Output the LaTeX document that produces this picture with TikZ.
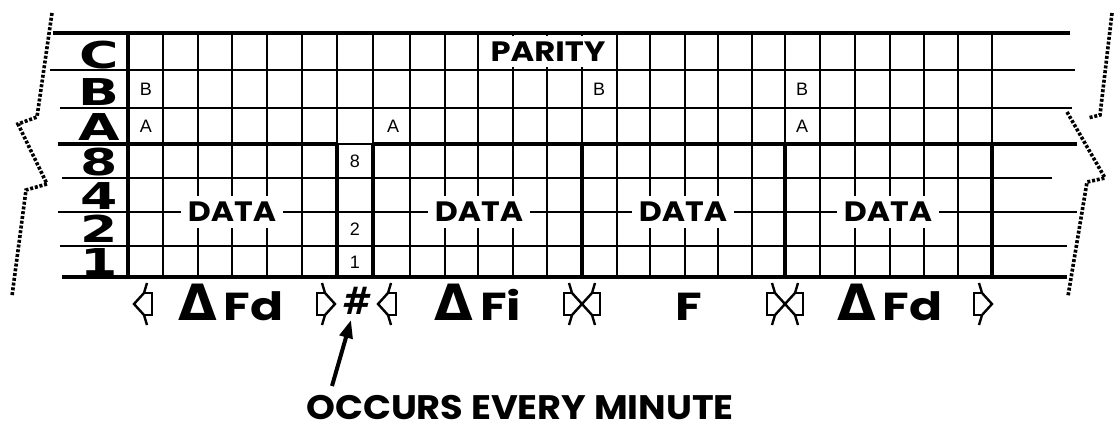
\documentclass[tikz,border=0pt]{standalone}
\usepackage{fontspec}
\setmainfont{Liberation Sans}
\newfontfamily\popf{Poppins}
\newfontfamily\djv{DejaVu Sans}
\usetikzlibrary{arrows.meta}
\newcommand\wideX[2]{\scalebox{#1}[1]{#2}}
\begin{document}
\begin{tikzpicture}[x=1pt,y=-1pt,
  gline/.style={line width=1.5pt},
  bline/.style={line width=3.2pt},
  tear/.style={line width=3.6pt, dash pattern=on 3pt off 1.8pt},
  rowlbl/.style={font=\djv\bfseries\fontsize{37}{37}\selectfont, inner sep=0pt},
  smallch/.style={font=\fontsize{18}{18}\selectfont, inner sep=0pt},
  datalbl/.style={font=\popf\bfseries\fontsize{28}{28}\selectfont, fill=white, inner xsep=7pt, inner ysep=6pt},
  sym/.style={line width=2.4pt, line join=miter},
  botlbl/.style={anchor=base, inner sep=0pt},
  arr/.style={line width=4pt, -{Triangle[length=18pt,width=13pt]}},
  rptr/.pic={
    \draw[sym] (-13,-21) -- (-10,-11) -- (0,0) -- (-10,11) -- (-13,21);
    \draw[sym] (-10,-11) -- (-18,-11) -- (-18,11) -- (-10,11);
  },
  lptr/.pic={
    \draw[sym] (13,-21) -- (10,-11) -- (0,0) -- (10,11) -- (13,21);
    \draw[sym] (10,-11) -- (18,-11) -- (18,11) -- (10,11);
  }
]
\useasboundingbox (0,0) rectangle (1114,425);
\fill[white] (0,0) rectangle (1114,425);

% thin grid verticals
\foreach \x in {163,198,232,267,302,337,373,410,445,478,513,547,582,617,650,685,718,752,785,820,855,890,924,958,992}
  \draw[gline] (\x,33) -- (\x,277);

% thin horizontals
\draw[gline] (50,70) -- (1075,70);
\draw[gline] (60,108) -- (1072,108);
\draw[gline] (337,144) -- (373,144);
\draw[gline] (62,178) -- (1052,178);
\draw[gline] (58,212) -- (1077,212);
\draw[gline] (60,246) -- (1067,246);

% thick lines
\draw[bline] (53,33) -- (1070,33);
\draw[bline] (62,277) -- (1067,277);
\draw[bline] (58,144) -- (337,144);
\draw[bline] (373,144) -- (1077,144);
\draw[bline] (128,33) -- (128,277);
\foreach \x in {337,373,582,785,992}
  \draw[bline] (\x,144) -- (\x,277);

% torn edges
\draw[tear] (52,13) -- (37,117) -- (18,124) -- (47,184) -- (26,190) -- (12,296);
\draw[tear] (1112,13) -- (1100,115) -- (1088,118);
\draw[tear] (1067,112) -- (1105,178) -- (1087,182) -- (1068,296);

% row labels
\node[rowlbl] (lC) at (99,55)  {\wideX{1.45}{C}};
\node[rowlbl] (lB) at (99,92)  {\wideX{1.45}{B}};
\node[rowlbl] (lA) at (99,127) {\wideX{1.45}{A}};
\node[rowlbl] (l8) at (99,162) {\wideX{1.45}{8}};
\node[rowlbl] (l4) at (99,196) {\wideX{1.45}{4}};
\node[rowlbl] (l2) at (99,229) {\wideX{1.45}{2}};
\node[rowlbl] (l1) at (99,262) {\wideX{1.45}{1}};

% small letters
\node[smallch] (b1) at (146,89)  {B};
\node[smallch] (a1) at (146,126) {A};
\node[smallch] (h8) at (355,161) {8};
\node[smallch] (h2) at (355,229) {2};
\node[smallch] (h1) at (355,262) {1};
\node[smallch] (a2) at (393,126) {A};
\node[smallch] (b2) at (599,89)  {B};
\node[smallch] (b3) at (802,89)  {B};
\node[smallch] (a3) at (802,126) {A};

% parity and data
\node[font=\popf\bfseries\fontsize{28}{28}\selectfont, fill=white, inner xsep=5pt, minimum height=31pt] (par) at (548,52) {\wideX{1.15}{PARITY}};
\node[datalbl] (d1) at (232,212) {\wideX{1.13}{DATA}};
\node[datalbl] (d2) at (479,212) {\wideX{1.13}{DATA}};
\node[datalbl] (d3) at (683,212) {\wideX{1.13}{DATA}};
\node[datalbl] (d4) at (888,212) {\wideX{1.13}{DATA}};

% bottom symbols
\pic at (134,304) {lptr};
\pic at (335,304) {rptr};
\pic at (378,304) {lptr};
\pic at (582,304) {rptr};
\pic at (582,304) {lptr};
\pic at (785,304) {rptr};
\pic at (785,304) {lptr};
\pic at (992,304) {rptr};

\node[botlbl] (f1) at (231,320) {{\djv\bfseries\fontsize{50}{50}\selectfont Δ}\hspace{7pt}\wideX{1.25}{\popf\bfseries\fontsize{39}{39}\selectfont Fd}};
\node[botlbl] (f2) at (478,320) {{\djv\bfseries\fontsize{50}{50}\selectfont Δ}\hspace{7pt}\wideX{1.25}{\popf\bfseries\fontsize{39}{39}\selectfont Fi}};
\node[botlbl] (f3) at (689,320) {\wideX{1.25}{\popf\bfseries\fontsize{39}{39}\selectfont F}};
\node[botlbl] (f4) at (890,320) {{\djv\bfseries\fontsize{50}{50}\selectfont Δ}\hspace{7pt}\wideX{1.25}{\popf\bfseries\fontsize{39}{39}\selectfont Fd}};
\node[font=\djv\bfseries\itshape\fontsize{38}{38}\selectfont, inner sep=0pt] (hash) at (355,301) {\#};

% note and arrow
\node[font=\popf\bfseries\fontsize{34}{34}\selectfont, anchor=base, inner sep=0pt] (occ) at (520,419) {\wideX{1.08}{OCCURS EVERY MINUTE}};
\coordinate (arrtail) at (332,386);
\coordinate (arrtip) at (351,320);
\draw[arr] (arrtail) -- (arrtip);
\end{tikzpicture}
\end{document}
